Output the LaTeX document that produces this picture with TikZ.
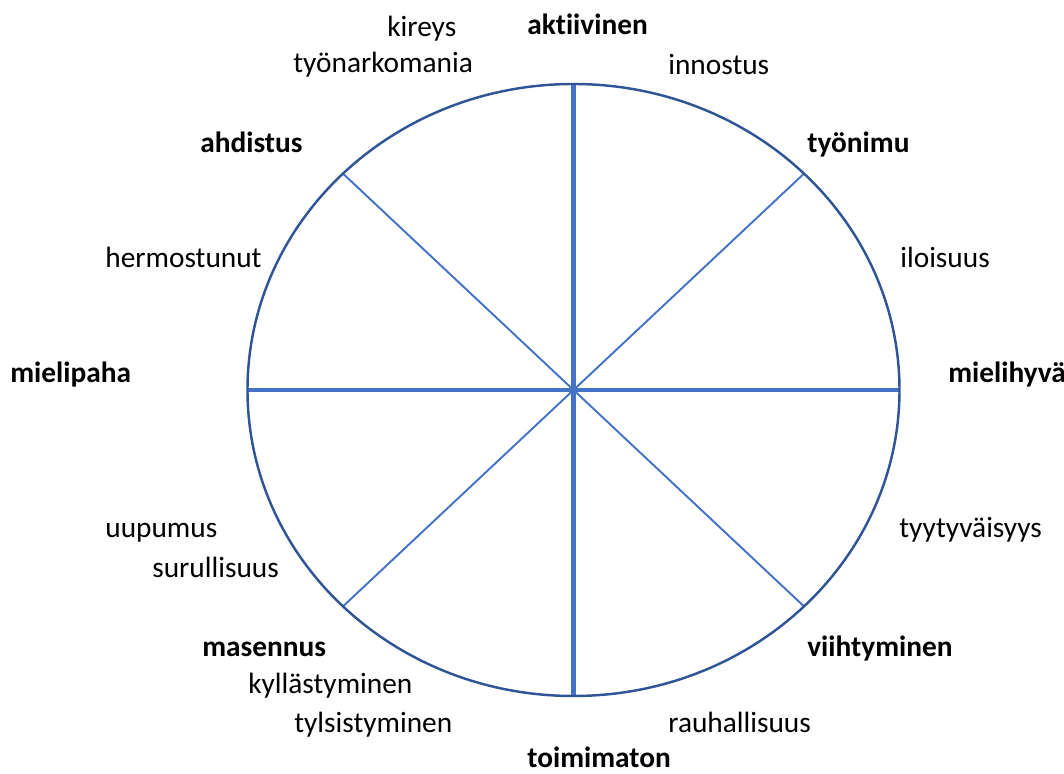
\documentclass[tikz,border=0pt]{standalone}
\usepackage{fontspec}
\setmainfont{Carlito}[Ligatures=NoCommon]
\usepackage{tikz}
\usetikzlibrary{positioning, calc}
\usepackage{xcolor}
\definecolor{rimblue}{HTML}{2F5597}
\definecolor{axisblue}{HTML}{4472C4}

\begin{document}
\begin{tikzpicture}[
    rim/.style={draw=rimblue, line width=1.4pt},
    axis/.style={draw=axisblue, line width=2.3pt},
    diag/.style={draw=axisblue, line width=1.1pt},
    pole/.style={anchor=base west, inner sep=0pt, font=\fontsize{16.7}{20}\selectfont\bfseries},
    mood/.style={anchor=base west, inner sep=0pt, font=\fontsize{16.7}{20}\selectfont}]
\useasboundingbox (-11.47,-7.68) rectangle (9.81,7.8);
\coordinate (c) at (0,0);
\coordinate (top) at (90:6.52cm and 6.12cm);
\coordinate (bot) at (270:6.52cm and 6.12cm);
\coordinate (lft) at (180:6.52cm and 6.12cm);
\coordinate (rgt) at (0:6.52cm and 6.12cm);
\coordinate (ne) at (45:6.52cm and 6.12cm);
\coordinate (nw) at (135:6.52cm and 6.12cm);
\coordinate (sw) at (225:6.52cm and 6.12cm);
\coordinate (se) at (315:6.52cm and 6.12cm);
\draw[diag] (nw) -- (se);
\draw[diag] (ne) -- (sw);
\draw[axis] (top) -- (bot);
\draw[axis] (lft) -- (rgt);
\draw[rim] (c) ellipse (6.52cm and 6.12cm);
% poles
\node[pole] (akt) at (-0.93,7.10) {aktiivinen};
\node[pole] (toim) at (-0.93,-7.54) {toimimaton};
\node[pole] (paha) at (-11.27,0.14) {mielipaha};
\node[pole] (hyva) at (7.49,0.14) {mielihyvä};
\node[pole] (ahd) at (-7.47,4.74) {ahdistus};
\node[pole] (imu) at (4.67,4.74) {työnimu};
\node[pole] (mas) at (-7.43,-5.32) {masennus};
\node[pole] (viih) at (4.67,-5.32) {viihtyminen};
% moods
\node[mood] (kir) at (-3.73,7.06) {kireys};
\node[mood] (ark) at (-5.61,6.34) {työnarkomania};
\node[mood] (inn) at (1.89,6.30) {innostus};
\node[mood] (her) at (-9.37,2.44) {hermostunut};
\node[mood] (ilo) at (6.53,2.44) {iloisuus};
\node[mood] (uup) at (-9.37,-2.96) {uupumus};
\node[mood] (sur) at (-8.43,-3.76) {surullisuus};
\node[mood] (tyy) at (6.51,-2.96) {tyytyväisyys};
\node[mood] (kyl) at (-6.51,-6.06) {kyllästyminen};
\node[mood] (tyl) at (-5.59,-6.84) {tylsistyminen};
\node[mood] (rau) at (1.89,-6.84) {rauhallisuus};
\end{tikzpicture}
\end{document}
